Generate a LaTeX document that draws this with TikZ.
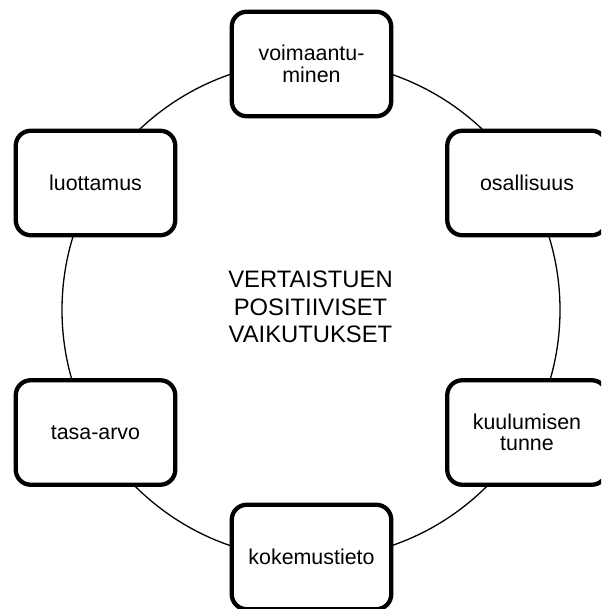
\documentclass[tikz,border=0pt]{standalone}
\usepackage{fontspec}
\setmainfont{Liberation Sans}
\begin{document}
\begin{tikzpicture}[x=1pt,y=1pt,
  ringline/.style={draw=black, line width=1.3pt},
  effectbox/.style={draw=black, fill=white, line width=4.3pt, rounded corners=15pt,
    rectangle, minimum width=159.5pt, minimum height=104.5pt, inner sep=0pt,
    align=center, font=\fontsize{21.4pt}{21.5pt}\selectfont},
  centertext/.style={align=center, inner sep=0pt, font=\fontsize{23.8pt}{27.6pt}\selectfont}]
\useasboundingbox (0,0) rectangle (601,609);
\clip (0,0) rectangle (601,609);
\fill[white] (0,0) rectangle (601,609);
\node[circle, ringline, minimum size=498pt, inner sep=0pt] (ring) at (311,299) {};
\node[centertext] (title) at (310.5,302) {VERTAISTUEN\\POSITIIVISET\\VAIKUTUKSET};
\node[effectbox] (voima) at (311.5,545) {voimaantu-\\minen};
\node[effectbox] (luotto) at (95.5,426) {luottamus};
\node[effectbox] (osal) at (527,426) {osallisuus};
\node[effectbox] (tasa) at (95.5,176.5) {tasa-arvo};
\node[effectbox] (kuulu) at (527,176.5) {kuulumisen\\tunne};
\node[effectbox] (koke) at (311.5,52) {kokemustieto};
\end{tikzpicture}
\end{document}
